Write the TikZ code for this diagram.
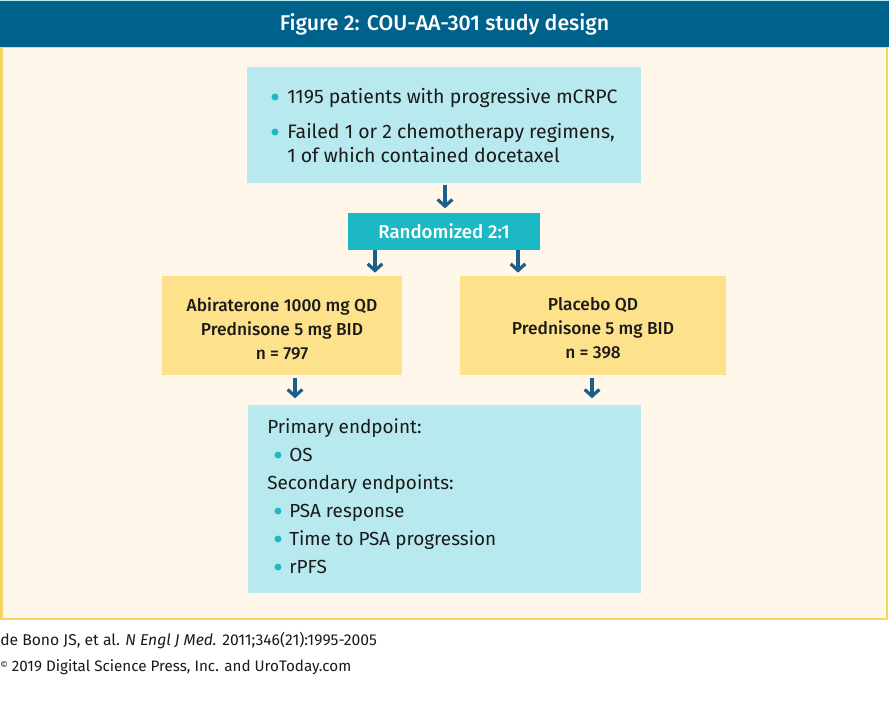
\documentclass[tikz,border=0pt]{standalone}
\usepackage{fontspec}
\setmainfont{Fira Sans}
\newfontfamily\medfont{Fira Sans Medium}
\usetikzlibrary{arrows.meta}
\definecolor{hdr}{HTML}{00628B}
\definecolor{cream}{HTML}{FFF8EA}
\definecolor{frameY}{HTML}{F6D462}
\definecolor{lblue}{HTML}{B8E9EE}
\definecolor{teal}{HTML}{1CB8C3}
\definecolor{yel}{HTML}{FDE18B}
\definecolor{arrc}{HTML}{1B5F8A}
\definecolor{txt}{HTML}{1A1A1A}
\tikzset{
  box/.style={inner sep=0pt, outer sep=0pt, anchor=north west},
  body/.style={font=\fontsize{14.2pt}{18pt}\selectfont, text=txt, inner sep=0pt, anchor=base west},
  ctr/.style={font=\fontsize{13pt}{18pt}\selectfont\medfont, text=txt, inner sep=0pt, align=center},
  bul/.style={circle, fill=teal, minimum size=5.2pt, inner sep=0pt},
  arr/.style={draw=arrc, line width=2.6pt, -{Straight Barb[length=5pt,width=11pt,line width=2.4pt]}},
}
\begin{document}
\begin{tikzpicture}[x=0.75pt,y=-0.75pt]
\useasboundingbox (0,0) rectangle (889,711);
\fill[white] (0,0) rectangle (889,711);
% frame
\draw[fill=cream, draw=frameY, line width=1.5pt] (1.5,47) rectangle (887,619);
% header
\fill[hdr] (0,0) rectangle (889,47);
\draw[lblue, line width=0.8pt] (0,0.5) -- (889,0.5);
\node[font=\fontsize{16pt}{18pt}\selectfont\medfont, text=white] (title) at (444.5,24) {Figure 2: COU-AA-301 study design};

% top box
\node[box, fill=lblue, minimum width={394*0.75pt}, minimum height={116*0.75pt}] (top) at (247,67) {};
\node[bul] (b1) at (275,97) {};
\node[body, font=\fontsize{14.6pt}{18pt}\selectfont] (t1) at (287,103) {1195 patients with progressive mCRPC};
\node[bul] (b2) at (275,132) {};
\node[body, font=\fontsize{14.6pt}{18pt}\selectfont] (t2) at (287,138) {Failed 1 or 2 chemotherapy regimens,};
\node[body, font=\fontsize{14.6pt}{18pt}\selectfont] (t3) at (287,162) {1 of which contained docetaxel};

% randomized
\node[box, fill=teal, minimum width={192*0.75pt}, minimum height={37*0.75pt}] (rand) at (348,213) {};
\node[ctr, font=\fontsize{14pt}{18pt}\selectfont\medfont, text=white] (rt) at (rand.center) {Randomized 2:1};

% arms
\node[box, fill=yel, minimum width={240*0.75pt}, minimum height={99*0.75pt}] (left) at (162,276) {};
\node[ctr] (ltx) at ([yshift=-2.2pt]left.center) {Abiraterone 1000 mg QD\\Prednisone 5 mg BID\\n = 797};
\node[box, fill=yel, minimum width={266*0.75pt}, minimum height={99*0.75pt}] (right) at (460,276) {};
\node[ctr] (rtx) at ([yshift=-2.2pt]right.center) {Placebo QD\\Prednisone 5 mg BID\\n = 398};

% endpoints box
\node[box, fill=lblue, minimum width={393*0.75pt}, minimum height={188*0.75pt}] (ep) at (248,405) {};
\node[body] (e1) at (267,433) {Primary endpoint:};
\node[bul] (eb1) at (278,455) {};
\node[body] (e2) at (289,461) {OS};
\node[body] (e3) at (267,489) {Secondary endpoints:};
\node[bul] (eb2) at (278,511) {};
\node[body] (e4) at (289,517) {PSA response};
\node[bul] (eb3) at (278,539) {};
\node[body] (e5) at (289,545) {Time to PSA progression};
\node[bul] (eb4) at (278,567) {};
\node[body] (e6) at (289,573) {rPFS};

% arrows
\draw[arr, shorten <=1.2pt, shorten >=3.5pt] (top.south -| 445,0) -- (rand.north -| 445,0);
\draw[arr, shorten >=2.5pt] (rand.south -| 375,0) -- (left.north -| 375,0);
\draw[arr, shorten >=2.5pt] (rand.south -| 518,0) -- (right.north -| 518,0);
\draw[arr, shorten <=2pt, shorten >=5pt] (left.south -| 295,0) -- (ep.north -| 295,0);
\coordinate (rend) at (592,405);
\draw[arr, shorten <=2pt, shorten >=5pt] (right.south -| 592,0) -- (rend);

% footer
\node[font=\fontsize{11.75pt}{13pt}\selectfont, text=txt, inner sep=0pt, anchor=base west] (f1) at (0,645) {de Bono JS, et al. \textit{N Engl J Med.} 2011;346(21):1995-2005};
\node[font=\fontsize{11.4pt}{13pt}\selectfont, text=txt, inner sep=0pt, anchor=base west] (f2) at (0,671) {\raisebox{2pt}{\scriptsize ©} 2019 Digital Science Press, Inc. and UroToday.com};
\end{tikzpicture}
\end{document}
